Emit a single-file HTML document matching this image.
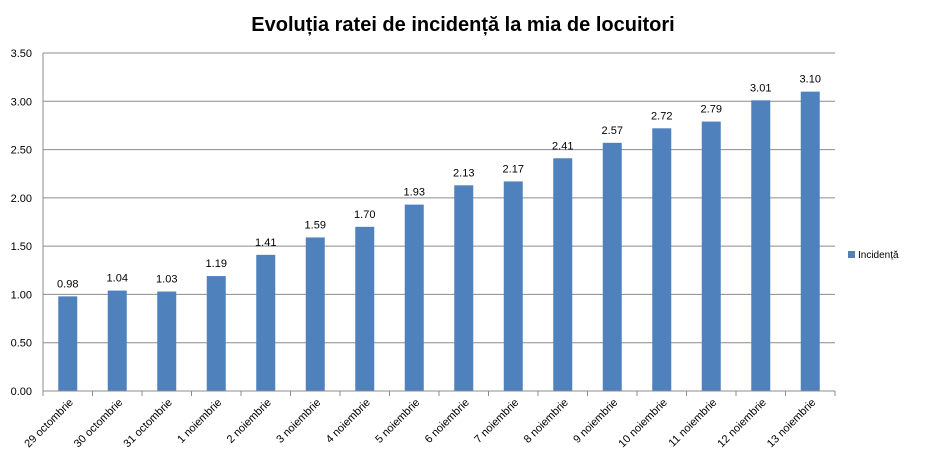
<!DOCTYPE html>
<html><head><meta charset="utf-8"><style>
body{margin:0;background:#fff;}
svg{display:block;font-family:"Liberation Sans",sans-serif;}
</style></head><body>
<svg width="925" height="469">
<text x="463" y="31" text-anchor="middle" font-size="20" font-weight="bold" fill="#000">Evoluția ratei de incidență la mia de locuitori</text>
<g id="grid"></g><g id="bars"></g><g id="axes"></g>
<g>
<rect x="848" y="251" width="7" height="7" fill="#4f81bd"/>
<text x="858" y="258" font-size="10" fill="#000">Incidență</text>
</g>
</svg>
<script>
const categories=["29 octombrie","30 octombrie","31 octombrie","1 noiembrie","2 noiembrie","3 noiembrie","4 noiembrie","5 noiembrie","6 noiembrie","7 noiembrie","8 noiembrie","9 noiembrie","10 noiembrie","11 noiembrie","12 noiembrie","13 noiembrie"];
const values=[0.98,1.04,1.03,1.19,1.41,1.59,1.70,1.93,2.13,2.17,2.41,2.57,2.72,2.79,3.01,3.10];
const yTicks=[0,0.5,1,1.5,2,2.5,3,3.5];
const NS="http://www.w3.org/2000/svg";
const x0=43,x1=835,yB=391,yT=53,yMax=3.5;
const bw=(x1-x0)/categories.length;
const y=v=>yB-(v/yMax)*(yB-yT);
const xc=i=>x0+bw*(i+0.5);
function mk(t,a,p){const e=document.createElementNS(NS,t);for(const k in a)e.setAttribute(k,a[k]);p.appendChild(e);return e;}
const g=document.getElementById('grid'),b=document.getElementById('bars'),ax=document.getElementById('axes');
yTicks.forEach(t=>{
 const l=mk('line',{x1:x0,x2:x1,y1:y(t),y2:y(t),stroke:'#8c8c8c','stroke-width':1},g);
 
 
 const tx=mk('text',{x:32,y:y(t)+4,'text-anchor':'end','font-size':11},ax);
 tx.textContent=t.toFixed(2);
 
 
});
mk('line',{x1:x0,x2:x0,y1:yT,y2:yB+5,stroke:'#8c8c8c'},ax);
categories.forEach((c,i)=>{
 const v=values[i];
 const r=mk('rect',{x:xc(i)-9.5,y:y(v),width:19,height:yB-y(v),fill:'#4f81bd'},b);
 
 
 const vl=mk('text',{x:xc(i),y:y(v)-9,'text-anchor':'middle','font-size':11},b);
 vl.textContent=v.toFixed(2);
 
 
 mk('line',{x1:x0+bw*(i+1),x2:x0+bw*(i+1),y1:yB,y2:yB+5,stroke:'#8c8c8c'},ax);
 const cl=mk('text',{x:xc(i)+6,y:yB+12,'text-anchor':'end','font-size':11,transform:`rotate(-45 ${xc(i)+6} ${yB+12})`},ax);
 cl.textContent=c;
 
 
});
mk('line',{x1:x0,x2:x1,y1:yB,y2:yB,stroke:'#8c8c8c'},ax);
</script>
</body></html>
